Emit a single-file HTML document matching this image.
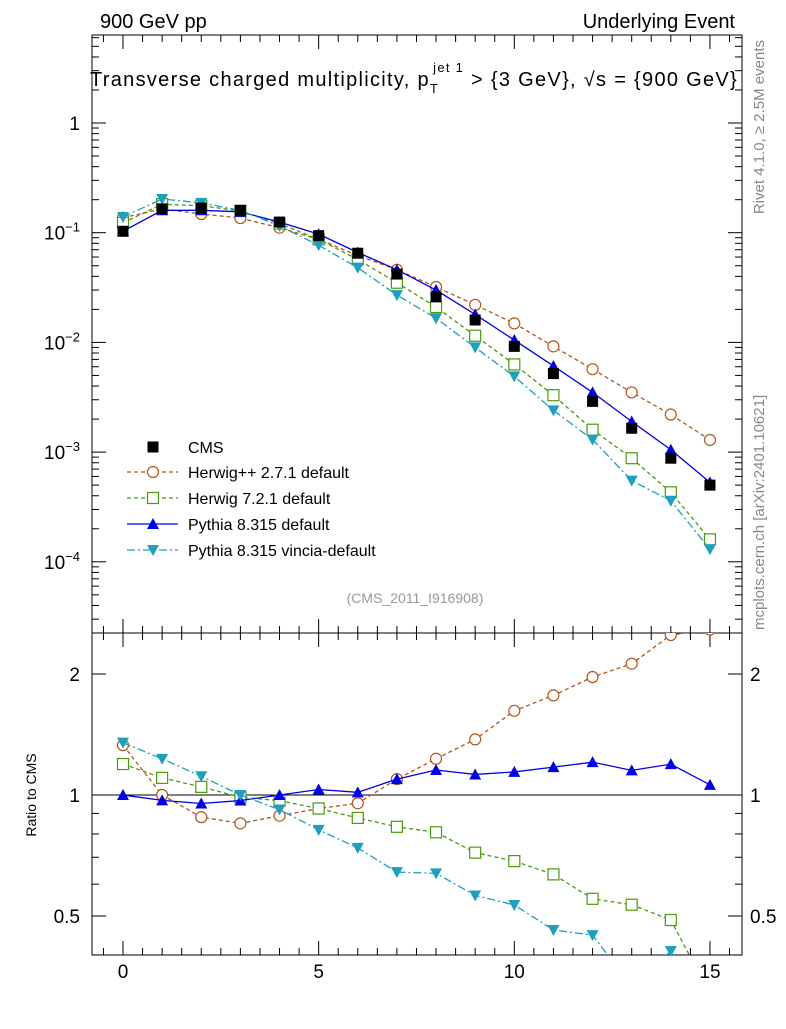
<!DOCTYPE html>
<html><head><meta charset="utf-8"><style>
body{margin:0;background:#fff;}
svg{font-family:"Liberation Sans",sans-serif;}
</style></head><body>
<svg id="c" width="786" height="1024" xmlns="http://www.w3.org/2000/svg">
<defs>
<clipPath id="cm"><rect x="92" y="35" width="650" height="598"/></clipPath>
<clipPath id="cr"><rect x="92" y="633" width="650" height="322"/></clipPath>
</defs>
<rect x="92" y="35" width="650" height="598" fill="none" stroke="#000"/>
<rect x="92" y="633" width="650" height="322" fill="none" stroke="#000"/>
<line x1="92" x2="742" y1="795" y2="795" stroke="#000"/>
<text x="100" y="28" font-size="20">900 GeV pp</text>
<text x="735" y="28" font-size="20" text-anchor="end">Underlying Event</text>
<text x="90" y="86" font-size="20" letter-spacing="1.3">Transverse charged multiplicity, p<tspan dy="7" font-size="13">T</tspan><tspan dy="-21" dx="-6" font-size="13">jet 1</tspan><tspan dy="14"> &gt; {3 GeV}, √s = {900 GeV}</tspan></text>
<text x="415" y="603" font-size="14" text-anchor="middle" fill="#999">(CMS_2011_I916908)</text>
<text transform="translate(36,795) rotate(-90)" font-size="14" text-anchor="middle">Ratio to CMS</text>
<text transform="translate(764,40) rotate(-90)" font-size="15" text-anchor="end" fill="#888">Rivet 4.1.0, ≥ 2.5M events</text>
<text transform="translate(764,630) rotate(-90)" font-size="15" fill="#888">mcplots.cern.ch [arXiv:2401.10621]</text>
<g id="legend">
<rect x="147.5" y="441.5" width="11" height="11" fill="#000"/>
<text x="188" y="453" font-size="16">CMS</text>
<line x1="127" x2="178" y1="472" y2="472" stroke="#b5541a" stroke-width="1.3" stroke-dasharray="4,3"/>
<circle cx="153" cy="472" r="5.5" fill="#fff" stroke="#b5541a" stroke-width="1.2"/>
<text x="188" y="478" font-size="16">Herwig++ 2.7.1 default</text>
<line x1="127" x2="178" y1="498" y2="498" stroke="#4b9a0c" stroke-width="1.3" stroke-dasharray="4,3"/>
<rect x="147.5" y="492.5" width="11" height="11" fill="#fff" stroke="#4b9a0c" stroke-width="1.2"/>
<text x="188" y="504" font-size="16">Herwig 7.2.1 default</text>
<line x1="127" x2="178" y1="524" y2="524" stroke="#0000ee" stroke-width="1.3"/>
<polygon points="153,518 147,529 159,529" fill="#0000ee"/>
<text x="188" y="530" font-size="16">Pythia 8.315 default</text>
<line x1="127" x2="178" y1="550" y2="550" stroke="#1ba0c0" stroke-width="1.3" stroke-dasharray="8,3,2,3"/>
<polygon points="153,556 147,545 159,545" fill="#1ba0c0"/>
<text x="188" y="556" font-size="16">Pythia 8.315 vincia-default</text>
</g>
</svg>
<script>
var xs=[0,1,2,3,4,5,6,7,8,9,10,11,12,13,14,15];
var cms=[0.103,0.165,0.168,0.16,0.125,0.094,0.065,0.042,0.026,0.016,0.0092,0.0052,0.0029,0.00165,0.00088,0.0005];
var herwigpp=[0.137,0.165,0.148,0.136,0.111,0.087,0.062,0.046,0.032,0.022,0.0149,0.0092,0.0057,0.0035,0.0022,0.00129];
var herwig7=[0.123,0.182,0.176,0.158,0.121,0.087,0.057,0.035,0.021,0.0115,0.0063,0.0033,0.0016,0.00088,0.00043,0.00016];
var pythia=[0.103,0.16,0.16,0.155,0.125,0.097,0.066,0.046,0.030,0.018,0.0105,0.0061,0.0035,0.0019,0.00105,0.00053];
var vincia=[0.139,0.203,0.187,0.16,0.115,0.077,0.048,0.027,0.0166,0.009,0.0049,0.0024,0.0013,0.00055,0.00036,0.00013];
var xTicks=[0,5,10,15];
var yTickExp=[0,-1,-2,-3,-4];
var rTicks=[0.5,1,2];

var root=document.getElementById('c');
var SVGNS='http://www.w3.org/2000/svg';
function mk(tag,attrs,parent){
  var e=document.createElementNS(SVGNS,tag);
  for(var k in attrs){e.setAttribute(k,attrs[k]);}
  (parent||root).appendChild(e);
  return e;
}
var PL=92,PR=742,PT=35,PMB=633,PRB=955;
function sx(v){return 123+v*39.13;}
function sy(v){return 123-Math.log(v)/Math.LN10*109.7;}
function sry(v){return 795-Math.log(v)/Math.LN2*121;}

try{
var tg=mk('g',{});


for(var v=-0.5;v<=15.8;v+=0.5){
  var x=sx(v),len=(v%5===0)?14:7;
  mk('line',{x1:x,x2:x,y1:PMB,y2:PMB-len,stroke:'#000'},tg);
  mk('line',{x1:x,x2:x,y1:PT,y2:PT+len,stroke:'#000'},tg);
  mk('line',{x1:x,x2:x,y1:PRB,y2:PRB-len,stroke:'#000'},tg);
  mk('line',{x1:x,x2:x,y1:PMB,y2:PMB+len,stroke:'#000'},tg);
}
for(var e=-5;e<=0;e++){
  for(var m=1;m<10;m++){
    var yy=sy(m*Math.pow(10,e));
    if(yy<PT||yy>PMB)continue;
    var l2=(m===1)?14:7;
    mk('line',{x1:PL,x2:PL+l2,y1:yy,y2:yy,stroke:'#000'},tg);
    mk('line',{x1:PR,x2:PR-l2,y1:yy,y2:yy,stroke:'#000'},tg);
  }
}
var rminor=[0.4,0.5,0.6,0.7,0.8,0.9,1,2];
for(var i=0;i<rminor.length;i++){
  var ry=sry(rminor[i]);
  if(ry<PMB||ry>PRB)continue;
  var l3=(rminor[i]===0.5||rminor[i]===1||rminor[i]===2)?14:7;
  mk('line',{x1:PL,x2:PL+l3,y1:ry,y2:ry,stroke:'#000'},tg);
  mk('line',{x1:PR,x2:PR-l3,y1:ry,y2:ry,stroke:'#000'},tg);
}
}catch(err){}

try{
for(var i=0;i<xTicks.length;i++){
  var t=mk('text',{x:sx(xTicks[i]),y:978,'font-size':19,'text-anchor':'middle'});
  t.textContent=String(xTicks[i]);
  
  
}
for(var i=0;i<yTickExp.length;i++){
  var ex=yTickExp[i];
  var t=mk('text',{x:80,y:sy(Math.pow(10,ex))+7,'font-size':19,'text-anchor':'end'});
  
  
  if(ex===0){t.textContent='1';}
  else{
    t.appendChild(document.createTextNode('10'));
    var sp=mk('tspan',{dy:-8,'font-size':13},t);
    sp.textContent='\u2212'+String(-ex);
  }
}
for(var i=0;i<rTicks.length;i++){
  var yv=sry(rTicks[i])+7;
  var t=mk('text',{x:80,y:yv,'font-size':19,'text-anchor':'end'});
  t.textContent=String(rTicks[i]);
  
  
  var t2=mk('text',{x:750,y:yv,'font-size':19});
  t2.textContent=String(rTicks[i]);
  
  
}
}catch(err){}

function marker(g,type,x,y,col){
  if(type==='sq'){mk('rect',{x:x-5.5,y:y-5.5,width:11,height:11,fill:'#000'},g);}
  else if(type==='circ'){mk('circle',{cx:x,cy:y,r:5.5,fill:'#fff',stroke:col,'stroke-width':1.2},g);}
  else if(type==='osq'){mk('rect',{x:x-5.5,y:y-5.5,width:11,height:11,fill:'#fff',stroke:col,'stroke-width':1.2},g);}
  else if(type==='tri'){mk('polygon',{points:x+','+(y-6)+' '+(x-6)+','+(y+5)+' '+(x+6)+','+(y+5),fill:col},g);}
  else{mk('polygon',{points:x+','+(y+6)+' '+(x-6)+','+(y-5)+' '+(x+6)+','+(y-5),fill:col},g);}
}
var series=[
 {d:herwigpp,c:'#b5541a',m:'circ',dash:'4,3',id:'herwigpp'},
 {d:herwig7,c:'#4b9a0c',m:'osq',dash:'4,3',id:'herwig7'},
 {d:pythia,c:'#0000ee',m:'tri',dash:'none',id:'pythia'},
 {d:vincia,c:'#1ba0c0',m:'itri',dash:'8,3,2,3',id:'vincia'}];

try{
for(var s=0;s<series.length;s++){
  var S=series[s];
  var g=mk('g',{'clip-path':'url(#cm)'});
  
  
  var pts=[],rpts=[];
  for(var i=0;i<xs.length;i++){
    pts.push(sx(xs[i])+','+sy(S.d[i]));
    rpts.push(sx(xs[i])+','+sry(S.d[i]/cms[i]));
  }
  mk('polyline',{points:pts.join(' '),fill:'none',stroke:S.c,'stroke-width':1.3,'stroke-dasharray':S.dash},g);
  for(var i=0;i<xs.length;i++){marker(g,S.m,sx(xs[i]),sy(S.d[i]),S.c);}
  var g2=mk('g',{'clip-path':'url(#cr)'});
  
  
  mk('polyline',{points:rpts.join(' '),fill:'none',stroke:S.c,'stroke-width':1.3,'stroke-dasharray':S.dash},g2);
  for(var i=0;i<xs.length;i++){marker(g2,S.m,sx(xs[i]),sry(S.d[i]/cms[i]),S.c);}
}
var gc=mk('g',{});


for(var i=0;i<xs.length;i++){marker(gc,'sq',sx(xs[i]),sy(cms[i]),'#000');}
}catch(err){}
</script>
</body></html>
